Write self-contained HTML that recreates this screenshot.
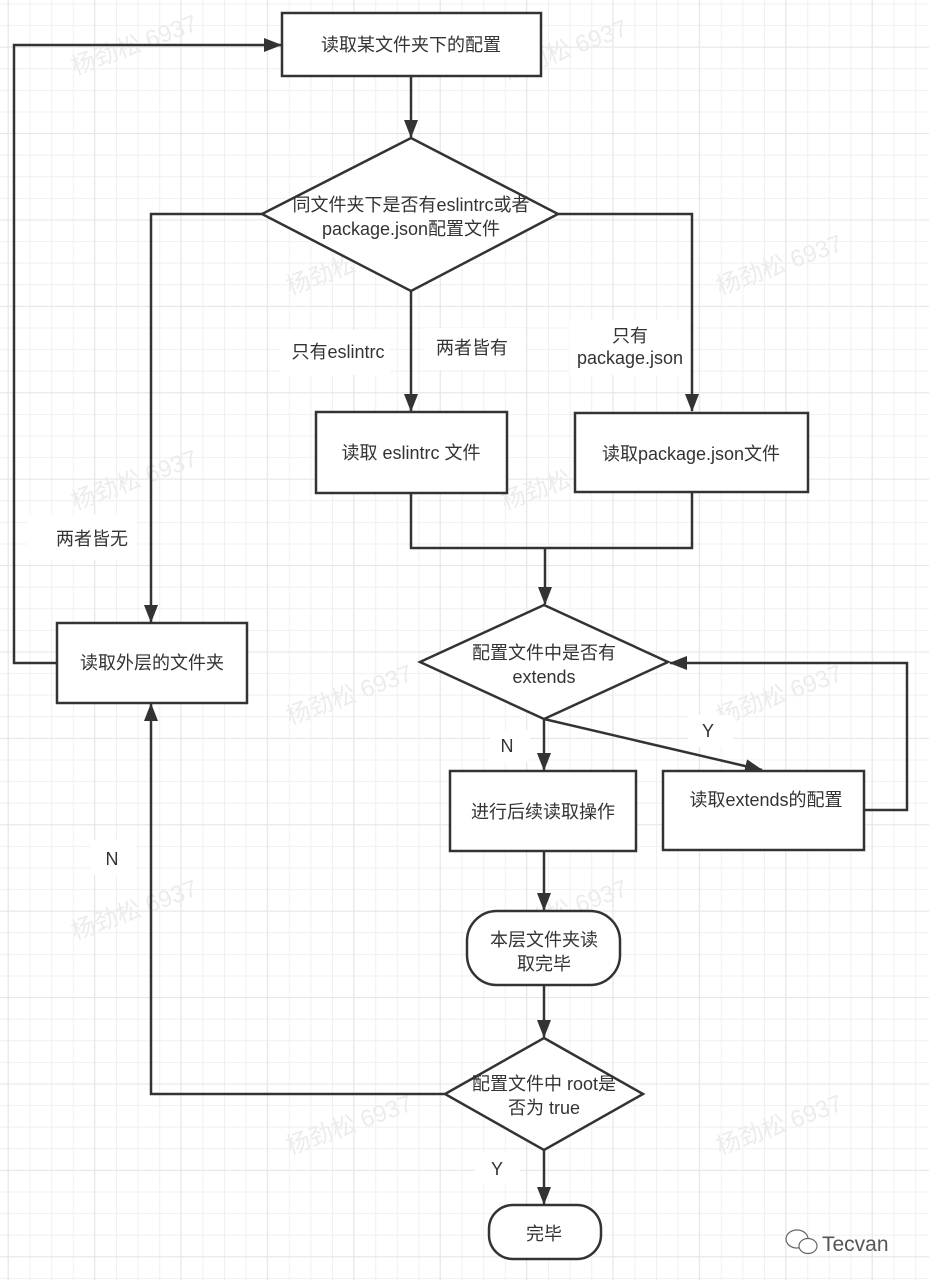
<!DOCTYPE html>
<html><head><meta charset="utf-8"><style>
html,body{margin:0;padding:0;background:#fff}
svg{display:block}
text{font-family:"Liberation Sans","Noto Sans CJK SC",sans-serif;fill:#333;font-size:18px}
.wm{fill:#ececec;font-size:24px}
</style></head><body>
<svg width="929" height="1280" viewBox="0 0 929 1280" xmlns="http://www.w3.org/2000/svg">
<defs>
<pattern id="minor" x="8" y="3.5" width="21.6" height="21.6" patternUnits="userSpaceOnUse">
<path d="M0 0H21.6M0 0V21.6" stroke="#f0f0f0" stroke-width="2" fill="none"/>
</pattern>
<pattern id="major" x="7.6" y="46.6" width="86.4" height="86.4" patternUnits="userSpaceOnUse">
<path d="M0 0H86.4M0 0V86.4" stroke="#e6e6e6" stroke-width="2" fill="none"/>
</pattern>
<marker id="a" markerWidth="18" markerHeight="14" refX="17" refY="7" orient="auto" markerUnits="userSpaceOnUse">
<path d="M0 0L18 7L0 14Z" fill="#333"/>
</marker>
</defs>
<rect width="929" height="1280" fill="#fff"/>
<rect width="929" height="1280" fill="url(#minor)"/>
<rect width="929" height="1280" fill="url(#major)"/>

<g>
<text class="wm" transform="translate(75,75) rotate(-20)">杨劲松 6937</text>
<text class="wm" transform="translate(505,80) rotate(-20)">杨劲松 6937</text>
<text class="wm" transform="translate(290,295) rotate(-20)">杨劲松 6937</text>
<text class="wm" transform="translate(720,295) rotate(-20)">杨劲松 6937</text>
<text class="wm" transform="translate(75,510) rotate(-20)">杨劲松 6937</text>
<text class="wm" transform="translate(505,510) rotate(-20)">杨劲松 6937</text>
<text class="wm" transform="translate(290,725) rotate(-20)">杨劲松 6937</text>
<text class="wm" transform="translate(720,725) rotate(-20)">杨劲松 6937</text>
<text class="wm" transform="translate(75,940) rotate(-20)">杨劲松 6937</text>
<text class="wm" transform="translate(505,940) rotate(-20)">杨劲松 6937</text>
<text class="wm" transform="translate(290,1155) rotate(-20)">杨劲松 6937</text>
<text class="wm" transform="translate(720,1155) rotate(-20)">杨劲松 6937</text>
</g>

<g fill="#fff">
<rect x="280" y="330" width="110" height="45"/>
<rect x="425" y="328" width="100" height="42"/>
<rect x="570" y="320" width="120" height="55"/>
<rect x="27" y="515" width="110" height="45"/>
<rect x="490" y="730" width="40" height="32"/>
<rect x="688" y="715" width="45" height="32"/>
<rect x="90" y="840" width="45" height="35"/>
<rect x="475" y="1152" width="45" height="32"/>
</g>

<g stroke="#333" stroke-width="2.5" fill="none">
<path d="M411 76V137" marker-end="url(#a)"/>
<path d="M262 214H151V622" marker-end="url(#a)"/>
<path d="M558 214H692V411" marker-end="url(#a)"/>
<path d="M411 291V411" marker-end="url(#a)"/>
<path d="M411 493V548H692V492"/>
<path d="M545 548V604" marker-end="url(#a)"/>
<path d="M544 719V770" marker-end="url(#a)"/>
<path d="M544 719L762 770" marker-end="url(#a)"/>
<path d="M859 810H907V663H670" marker-end="url(#a)"/>
<path d="M544 851V910" marker-end="url(#a)"/>
<path d="M544 985V1037" marker-end="url(#a)"/>
<path d="M445 1094H151V704" marker-end="url(#a)"/>
<path d="M57 663H14V45H281" marker-end="url(#a)"/>
<path d="M544 1150V1204" marker-end="url(#a)"/>
</g>

<g stroke="#333" stroke-width="2.5" fill="#fff">
<rect x="282" y="13" width="259" height="63"/>
<polygon points="411,138 558,214 411,291 262,214"/>
<rect x="316" y="412" width="191" height="81"/>
<rect x="575" y="413" width="233" height="79"/>
<rect x="57" y="623" width="190" height="80"/>
<polygon points="544,605 668,662 544,719 420,662"/>
<rect x="450" y="771" width="186" height="80"/>
<rect x="663" y="771" width="201" height="79"/>
<rect x="467" y="911" width="153" height="74" rx="30"/>
<polygon points="544,1038 643,1094 544,1150 445,1094"/>
<rect x="489" y="1205" width="112" height="54" rx="24"/>
</g>

<g text-anchor="middle">
<text x="411" y="51">读取某文件夹下的配置</text>
<text x="411" y="211">同文件夹下是否有eslintrc或者</text>
<text x="411" y="235">package.json配置文件</text>
<text x="411" y="459">读取 eslintrc 文件</text>
<text x="691" y="460">读取package.json文件</text>
<text x="152" y="669">读取外层的文件夹</text>
<text x="544" y="659">配置文件中是否有</text>
<text x="544" y="683">extends</text>
<text x="543" y="818">进行后续读取操作</text>
<text x="766" y="806">读取extends的配置</text>
<text x="544" y="946">本层文件夹读</text>
<text x="544" y="970">取完毕</text>
<text x="544" y="1090">配置文件中 root是</text>
<text x="544" y="1114">否为 true</text>
<text x="544" y="1240">完毕</text>
<text x="338" y="358" font-size="16">只有eslintrc</text>
<text x="472" y="354" font-size="16">两者皆有</text>
<text x="630" y="342" font-size="16">只有</text>
<text x="630" y="364" font-size="16">package.json</text>
<text x="92" y="545" font-size="16">两者皆无</text>
<text x="507" y="752" font-size="16">N</text>
<text x="708" y="737" font-size="16">Y</text>
<text x="112" y="865" font-size="16">N</text>
<text x="497" y="1175" font-size="16">Y</text>
</g>

<g stroke="#666" stroke-width="1.2" fill="#fff">
<ellipse cx="797" cy="1239" rx="11" ry="9"/>
<ellipse cx="808" cy="1246" rx="9" ry="7.5"/>
</g>
<text x="822" y="1251" style="font-size:21px;fill:#555">Tecvan</text>
</svg>
</body></html>
